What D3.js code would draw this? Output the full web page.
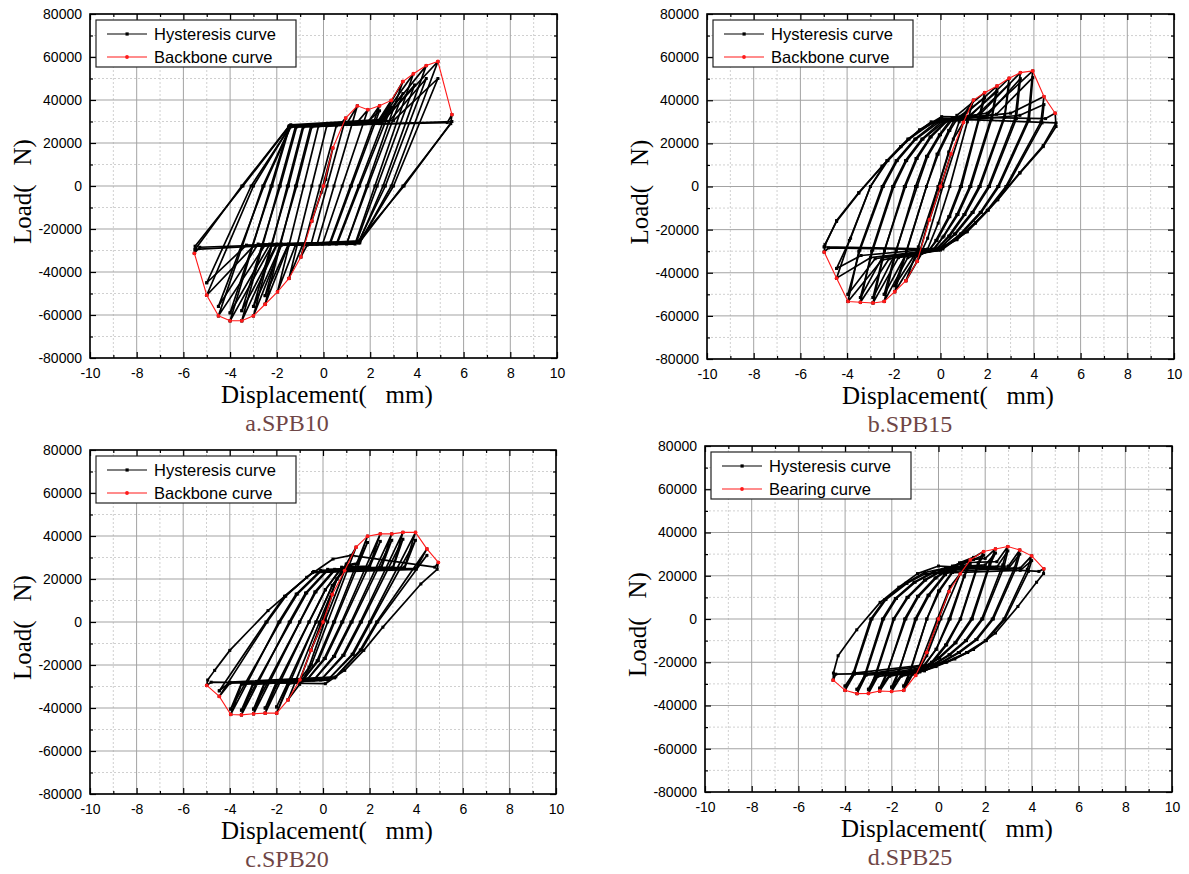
<!DOCTYPE html>
<html>
<head>
<meta charset="utf-8">
<script src="https://cdn.jsdelivr.net/npm/d3@7"></script>
<style>
  body { margin: 0; background: #fff; }
  svg { display: block; }
</style>
</head>
<body>
<svg id="chart" width="1189" height="874"></svg>
<script>
// Axis ticks shared by all four panels
const xMajorTicks = [-10, -8, -6, -4, -2, 0, 2, 4, 6, 8, 10];
const xMinorTicks = [-9, -7, -5, -3, -1, 1, 3, 5, 7, 9];
const yMajorTicks = [-80000, -60000, -40000, -20000, 0, 20000, 40000, 60000, 80000];
const yMinorTicks = [-70000, -50000, -30000, -10000, 10000, 30000, 50000, 70000];

const panelLabels = ["a.SPB10", "b.SPB15", "c.SPB20", "d.SPB25"];
const legendA = ["Hysteresis curve", "Backbone curve"];
const legendD = ["Hysteresis curve", "Bearing curve"];
const xTitle = "Displacement(\u00a0\u00a0\u00a0mm)";
const yTitle = "Load(\u00a0\u00a0\u00a0N)";

// Hysteresis loops: [displacement mm, load N]
// first cycle at each amplitude
const loopsA = [
  [[-0.5,-16300],[0.1,3000],[0.4,17700],[-0.1,-3000],[-0.5,-16300]],
  [[-0.97,-33000],[-0.15,0],[0.55,28000],[0.7,28500],[0.95,31600],[0.15,0],[-0.53,-27000],[-0.7,-27500],[-0.97,-33000]],
  [[-1.48,-43000],[-0.5,0],[0.14,28000],[1.0,29000],[1.45,37300],[0.45,0],[-0.27,-27000],[-0.9,-27500],[-1.48,-43000]],
  [[-1.97,-49200],[-0.85,0],[-0.21,28000],[1.4,29000],[1.9,35500],[0.8,0],[-0.04,-27000],[-1.2,-27500],[-1.97,-49200]],
  [[-2.5,-55000],[-1.2,0],[-0.54,28000],[1.9,29500],[2.4,37300],[1.15,0],[0.25,-27000],[-1.5,-27500],[-2.5,-55000]],
  [[-3.0,-60400],[-1.55,0],[-0.88,28000],[2.3,29500],[2.9,39800],[1.5,0],[0.55,-27000],[-1.8,-27500],[-3.0,-60400]],
  [[-3.5,-62700],[-1.9,0],[-1.19,28000],[2.4,30000],[3.4,48600],[1.85,0],[0.99,-27000],[-2.0,-27500],[-3.5,-62700]],
  [[-4.0,-62700],[-2.25,0],[-1.47,28000],[2.4,30000],[3.85,52200],[2.2,0],[1.35,-27000],[-2.2,-27500],[-4.0,-62700]],
  [[-4.5,-60400],[-2.6,0],[-1.4,28000],[2.5,30500],[4.4,56000],[2.55,0],[1.5,-26500],[-2.5,-27500],[-4.5,-60400]],
  [[-5.0,-50800],[-3.0,0],[-1.4,28500],[2.6,31000],[4.9,57900],[2.9,0],[1.55,-26500],[-3.0,-28000],[-5.0,-50800]],
  [[-5.53,-31300],[-5.5,-28000],[-3.45,0],[-1.45,28000],[5.3,29500],[5.5,33200],[5.45,29000],[3.4,0],[1.55,-26000],[-5.3,-28500],[-5.53,-31300]]
];
// repeated cycles (black peaks sitting under the backbone)
const repeatA = [
  [[-2.5,-51000],[-1.15,0],[-0.5,27500],[1.8,29000],[2.4,35000],[1.2,0],[0.3,-26500],[-1.5,-27000],[-2.5,-51000]],
  [[-3.0,-56000],[-1.5,0],[-0.85,27500],[2.2,29000],[2.9,36500],[1.55,0],[0.6,-26500],[-1.8,-27000],[-3.0,-56000]],
  [[-3.5,-58000],[-1.85,0],[-1.15,27500],[2.4,29000],[3.4,43000],[1.9,0],[1.0,-26500],[-2.0,-27000],[-3.5,-58000]],
  [[-4.0,-59000],[-2.2,0],[-1.45,27500],[2.5,29500],[3.9,47000],[2.3,0],[1.4,-26500],[-2.3,-27000],[-4.0,-59000]],
  [[-4.5,-56000],[-2.55,0],[-1.4,27500],[2.8,30000],[4.4,50000],[2.65,0],[1.5,-26000],[-2.8,-27000],[-4.5,-56000]],
  [[-5.0,-45000],[-3.1,0],[-1.4,28000],[3.0,30500],[4.9,50000],[3.0,0],[1.55,-26000],[-3.3,-27500],[-5.0,-45000]],
  [[-5.5,-29500],[-3.5,0],[-1.5,27500],[5.5,30000],[3.45,0],[1.5,-25500],[-5.5,-29500]]
];
const backboneA = [[-5.53,-31300],[-5.0,-50800],[-4.5,-60400],[-4.0,-62700],[-3.5,-62700],[-3.0,-60400],[-2.5,-55000],[-1.97,-49200],[-1.48,-43000],[-0.97,-33000],[-0.5,-16300],[0,0],[0.4,17700],[0.95,31600],[1.45,37300],[1.9,35500],[2.4,37300],[2.9,39800],[3.4,48600],[3.85,52200],[4.4,56000],[4.9,57900],[5.5,33200]];

const loopsB = [
  [[-0.47,-15400],[0.05,1500],[0.45,15100],[-0.05,-1500],[-0.47,-15400]],
  [[-1.0,-34700],[-0.1,0],[0.55,22000],[0.98,29700],[0.1,0],[-0.55,-24000],[-1.0,-34700]],
  [[-1.48,-43700],[-0.95,-28000],[-0.1,0],[0.35,16000],[0.8,30000],[1.41,40100],[1.15,30000],[0.4,0],[-0.1,-17000],[-0.55,-29000],[-0.8,-31000],[-1.48,-43700]],
  [[-1.96,-48800],[-1.45,-30000],[-0.6,0],[-0.15,15000],[0.35,26000],[0.7,33000],[1.89,43500],[1.65,32000],[0.85,0],[0.35,-14000],[-0.2,-25000],[-0.5,-30000],[-1.0,-32000],[-1.96,-48800]],
  [[-2.41,-53300],[-1.9,-30000],[-1.07,0],[-0.6,14000],[-0.05,24000],[0.5,32000],[1.0,33000],[2.42,46600],[2.2,33000],[1.25,0],[0.7,-13000],[0.1,-23500],[-0.3,-29500],[-1.4,-33000],[-2.41,-53300]],
  [[-2.89,-54000],[-2.4,-30000],[-1.55,0],[-1.05,13000],[-0.45,23000],[0.3,31000],[1.3,33000],[2.94,50200],[2.75,33000],[1.65,0],[1.0,-13000],[0.35,-23000],[-0.2,-29500],[-1.8,-33000],[-2.89,-54000]],
  [[-3.43,-53700],[-2.95,-30000],[-2.05,0],[-1.5,12000],[-0.8,22000],[0.1,30500],[1.7,33500],[3.42,52800],[3.2,32000],[2.05,0],[1.35,-12000],[0.6,-22000],[-0.1,-29500],[-2.2,-33500],[-3.43,-53700]],
  [[-3.96,-53300],[-3.5,-30000],[-2.5,0],[-1.9,12000],[-1.1,22000],[-0.1,30500],[2.0,34000],[3.95,53600],[3.75,31000],[2.45,0],[1.7,-12000],[0.85,-22000],[0.0,-29500],[-2.5,-34000],[-3.96,-53300]],
  [[-4.45,-42500],[-3.9,-25000],[-3.0,0],[-2.3,12000],[-1.4,22000],[-0.4,30000],[3.0,34000],[4.43,41700],[4.3,30000],[2.8,0],[2.0,-11000],[1.1,-21000],[0.1,-29000],[-3.0,-33000],[-4.45,-42500]],
  [[-4.98,-30400],[-4.95,-27000],[-4.45,-16200],[-3.5,-3100],[-2.5,9300],[-1.7,18500],[-0.9,26300],[0.05,32400],[4.5,31500],[4.91,34000],[4.95,27800],[4.4,18500],[3.4,6200],[2.45,-6200],[1.5,-17000],[0.7,-24700],[-0.1,-29300],[-4.8,-28500],[-4.98,-30400]]
];
const repeatB = [
  [[-1.96,-46000],[-1.45,-29500],[-0.6,0],[-0.1,15000],[0.4,26000],[0.75,32000],[1.89,41000],[1.65,31000],[0.9,0],[0.4,-14000],[-0.15,-25000],[-0.5,-29500],[-1.1,-31500],[-1.96,-46000]],
  [[-2.41,-50000],[-1.9,-29500],[-1.0,0],[-0.55,14000],[0.0,24000],[0.5,31000],[1.2,32500],[2.42,44000],[2.2,31500],[1.3,0],[0.75,-13000],[0.15,-23000],[-0.3,-29000],[-1.5,-32000],[-2.41,-50000]],
  [[-2.89,-51500],[-2.4,-29500],[-1.5,0],[-1.0,13000],[-0.4,23000],[0.3,30500],[1.5,32500],[2.94,47500],[2.75,32000],[1.7,0],[1.05,-13000],[0.4,-23000],[-0.2,-29000],[-2.0,-32500],[-2.89,-51500]],
  [[-3.43,-51500],[-2.9,-29500],[-2.0,0],[-1.45,12000],[-0.75,22000],[0.15,30000],[2.0,33000],[3.42,50000],[3.25,31500],[2.1,0],[1.4,-12000],[0.65,-22000],[-0.1,-29000],[-2.5,-33000],[-3.43,-51500]],
  [[-3.96,-50000],[-3.45,-29500],[-2.45,0],[-1.85,12000],[-1.05,22000],[-0.05,30000],[2.4,33500],[3.95,50500],[3.8,31000],[2.5,0],[1.75,-12000],[0.9,-22000],[0.0,-29000],[-2.8,-33500],[-3.96,-50000]],
  [[-4.45,-38000],[-3.85,-24000],[-3.0,0],[-2.25,12000],[-1.35,22000],[-0.35,29500],[3.4,33000],[4.43,38000],[4.35,29500],[2.85,0],[2.05,-11000],[1.15,-21000],[0.1,-28500],[-3.4,-32000],[-4.45,-38000]],
  [[-4.98,-28000],[-4.45,-15800],[-3.5,-2800],[-2.5,9500],[-1.7,18500],[-0.9,26000],[0.0,31500],[4.95,29500],[4.4,19000],[3.4,6500],[2.45,-6000],[1.5,-16800],[0.7,-24500],[-0.1,-29000],[-4.98,-28000]]
];
const backboneB = [[-4.98,-30400],[-4.45,-42500],[-3.96,-53300],[-3.43,-53700],[-2.89,-54000],[-2.41,-53300],[-1.96,-48800],[-1.48,-43700],[-1.0,-34700],[-0.47,-15400],[0,0],[0.45,15100],[0.98,29700],[1.41,40100],[1.89,43500],[2.42,46600],[2.94,50200],[3.42,52800],[3.95,53600],[4.43,41700],[4.91,34000]];

const loopsC = [
  [[-0.52,-13200],[0.05,1500],[0.4,12800],[-0.05,-1500],[-0.52,-13200]],
  [[-0.99,-26900],[-0.1,-1000],[0.6,20000],[0.93,23900],[0.1,1000],[-0.6,-21000],[-0.99,-26900]],
  [[-1.5,-36200],[-0.15,0],[0.6,20000],[1.0,27000],[1.42,34800],[0.2,0],[-0.5,-20000],[-1.0,-29000],[-1.5,-36200]],
  [[-1.99,-42400],[-0.3,0],[0.4,17000],[1.0,26500],[1.5,27500],[1.91,39900],[0.45,0],[-0.25,-18000],[-0.9,-27500],[-1.5,-29000],[-1.99,-42400]],
  [[-2.48,-42400],[-0.6,0],[0.1,15000],[0.8,25500],[2.0,26000],[2.46,41000],[0.8,0],[0.05,-17000],[-0.7,-27000],[-2.0,-28500],[-2.48,-42400]],
  [[-2.98,-42700],[-1.0,0],[-0.35,14000],[0.5,24500],[2.5,25500],[2.95,41000],[1.2,0],[0.45,-16000],[-0.4,-27000],[-2.5,-28500],[-2.98,-42700]],
  [[-3.5,-43200],[-1.45,0],[-0.75,13500],[0.2,24500],[3.0,25500],[3.43,41700],[1.6,0],[0.85,-15500],[-0.1,-27000],[-3.0,-29000],[-3.5,-43200]],
  [[-3.96,-43000],[-1.9,0],[-1.15,13000],[-0.1,24000],[3.5,25500],[3.97,41700],[2.0,0],[1.25,-15000],[0.2,-27000],[-3.5,-29000],[-3.96,-43000]],
  [[-4.45,-34600],[-2.4,0],[-1.6,12000],[-0.4,23500],[4.0,25000],[4.46,34000],[2.3,0],[1.6,-13000],[0.5,-26000],[-4.0,-28500],[-4.45,-34600]],
  [[-4.99,-29500],[-4.95,-27000],[-4.65,-22500],[-4.0,-13200],[-2.36,5300],[-0.7,20800],[0.43,29300],[1.2,31000],[4.8,25500],[4.95,27700],[4.9,24500],[4.2,17700],[2.57,-2400],[1.75,-13200],[0.93,-22500],[0.1,-28700],[-4.8,-28000],[-4.99,-29500]]
];
const repeatC = [
  [[-1.99,-39500],[-0.3,0],[0.4,17000],[1.0,26000],[1.5,27000],[1.91,37000],[0.5,0],[-0.2,-18000],[-0.85,-27000],[-1.5,-28500],[-1.99,-39500]],
  [[-2.48,-40000],[-0.6,0],[0.1,15000],[0.8,25000],[2.0,25500],[2.46,37500],[0.85,0],[0.1,-17000],[-0.65,-26500],[-2.0,-28000],[-2.48,-40000]],
  [[-2.98,-40500],[-1.0,0],[-0.3,14000],[0.5,24000],[2.5,25000],[2.95,38000],[1.25,0],[0.5,-16000],[-0.35,-26500],[-2.5,-28000],[-2.98,-40500]],
  [[-3.5,-41000],[-1.4,0],[-0.7,13500],[0.2,24000],[3.0,25000],[3.43,38500],[1.65,0],[0.9,-15500],[-0.05,-26500],[-3.0,-28500],[-3.5,-41000]],
  [[-3.96,-40500],[-1.85,0],[-1.1,13000],[-0.1,23500],[3.5,25000],[3.97,38000],[2.05,0],[1.3,-15000],[0.25,-26500],[-3.5,-28500],[-3.96,-40500]],
  [[-4.45,-32000],[-2.45,0],[-1.65,12000],[-0.45,23000],[4.0,24500],[4.46,31000],[2.35,0],[1.65,-13000],[0.55,-25500],[-4.0,-28000],[-4.45,-32000]]
];
const backboneC = [[-4.99,-29500],[-4.45,-34600],[-3.96,-43000],[-3.5,-43200],[-2.98,-42700],[-2.48,-42400],[-1.99,-42400],[-1.5,-36200],[-0.99,-26900],[-0.52,-13200],[0,0],[0.4,12800],[0.93,23900],[1.42,34800],[1.91,39900],[2.46,41000],[2.95,41000],[3.43,41700],[3.97,41700],[4.46,34000],[4.95,27700]];

const loopsD = [
  [[-0.5,-15400],[0.05,1500],[0.45,12700],[-0.05,-1500],[-0.5,-15400]],
  [[-0.98,-26100],[-0.05,0],[0.5,15000],[0.93,20900],[0.1,0],[-0.5,-17000],[-0.98,-26100]],
  [[-1.49,-33000],[-1.2,-24000],[-0.5,0],[0.0,13000],[0.6,22000],[1.0,25000],[1.36,27300],[1.1,20000],[0.45,0],[-0.1,-14000],[-0.7,-23000],[-1.1,-25500],[-1.49,-33000]],
  [[-2.01,-33500],[-1.7,-24500],[-1.0,0],[-0.45,11000],[0.25,20500],[0.9,26000],[1.5,28500],[1.93,31200],[1.7,26000],[0.93,0],[0.3,-12000],[-0.3,-20000],[-1.0,-25000],[-1.6,-26500],[-2.01,-33500]],
  [[-2.52,-33300],[-2.2,-25000],[-1.45,0],[-0.9,10500],[-0.15,19000],[0.6,24500],[1.4,27500],[2.0,28000],[2.44,32400],[2.2,26000],[1.4,0],[0.7,-11000],[0.0,-18000],[-0.6,-23000],[-2.1,-26500],[-2.52,-33300]],
  [[-3.0,-34400],[-2.7,-25500],[-1.93,0],[-1.35,10000],[-0.6,18000],[0.2,23000],[1.0,26000],[2.5,26500],[2.97,33500],[2.75,25000],[1.85,0],[1.15,-10000],[0.45,-16500],[-0.3,-21500],[-0.8,-24500],[-2.6,-26500],[-3.0,-34400]],
  [[-3.49,-34500],[-3.15,-25500],[-2.4,0],[-1.85,9500],[-1.05,17000],[-0.2,22000],[0.6,24000],[3.0,24500],[3.48,31900],[3.25,23500],[2.3,0],[1.6,-9500],[0.85,-15500],[0.05,-20500],[-0.6,-24000],[-3.1,-26000],[-3.49,-34500]],
  [[-4.0,-33000],[-3.65,-25000],[-2.9,0],[-2.3,9000],[-1.4,16500],[-0.6,21500],[0.3,23500],[3.5,23500],[3.99,29200],[3.8,23000],[2.8,0],[2.0,-10000],[1.2,-15500],[0.3,-20000],[-0.6,-23800],[-3.6,-25500],[-4.0,-33000]],
  [[-4.51,-28300],[-4.5,-25000],[-4.3,-17000],[-3.5,-5000],[-2.5,7700],[-1.7,14700],[-0.9,21000],[0.0,24500],[4.3,22000],[4.51,23200],[4.5,21000],[4.2,17000],[3.4,5800],[2.44,-6500],[1.5,-14100],[0.7,-18500],[-0.1,-22000],[-0.9,-24900],[-4.4,-25500],[-4.51,-28300]]
];
const repeatD = [
  [[-1.49,-31000],[-1.2,-23500],[-0.5,0],[0.05,13000],[0.6,21500],[1.0,24500],[1.36,25500],[1.1,19500],[0.5,0],[-0.1,-14000],[-0.7,-22500],[-1.1,-25000],[-1.49,-31000]],
  [[-2.01,-31500],[-1.7,-24000],[-0.95,0],[-0.4,11000],[0.3,20500],[0.9,25500],[1.5,27500],[1.93,29500],[1.7,25000],[0.95,0],[0.35,-12000],[-0.25,-20000],[-1.0,-24500],[-1.6,-26000],[-2.01,-31500]],
  [[-2.52,-32000],[-2.2,-24500],[-1.4,0],[-0.85,10500],[-0.1,19000],[0.6,24000],[2.0,25000],[2.44,30500],[2.2,25000],[1.45,0],[0.75,-11000],[0.05,-18000],[-0.6,-22500],[-2.1,-26000],[-2.52,-32000]],
  [[-3.0,-32500],[-2.65,-25000],[-1.9,0],[-1.3,10000],[-0.55,18000],[0.2,22500],[2.5,24000],[2.97,31500],[2.8,24000],[1.9,0],[1.2,-10000],[0.5,-16500],[-0.25,-21500],[-2.6,-26000],[-3.0,-32500]],
  [[-3.49,-32500],[-3.1,-25000],[-2.35,0],[-1.8,9500],[-1.0,17000],[-0.2,21500],[3.0,23500],[3.48,30000],[3.3,23000],[2.35,0],[1.65,-9500],[0.9,-15500],[0.1,-20500],[-3.1,-25500],[-3.49,-32500]],
  [[-4.0,-31000],[-3.6,-24500],[-2.85,0],[-2.25,9000],[-1.35,16500],[-0.55,21000],[3.5,22500],[3.99,27000],[3.85,22000],[2.85,0],[2.05,-10000],[1.25,-15500],[0.35,-20000],[-3.6,-25000],[-4.0,-31000]]
];
const backboneD = [[-4.51,-28300],[-4.0,-33000],[-3.49,-34500],[-3.0,-34400],[-2.52,-33300],[-2.01,-33500],[-1.49,-33000],[-0.98,-26100],[-0.5,-15400],[0,0],[0.45,12700],[0.93,20900],[1.36,27300],[1.93,31200],[2.44,32400],[2.97,33500],[3.48,31900],[3.99,29200],[4.51,23200]];

const panels = [
  { loops: loopsA.concat(repeatA), backbone: backboneA, legend: legendA, label: panelLabels[0], left: 90, right: 557, top: 14, bottom: 358, labelX: 287, titleDx: 131 },
  { loops: loopsB.concat(repeatB), backbone: backboneB, legend: legendA, label: panelLabels[1], left: 707, right: 1174, top: 14, bottom: 359, labelX: 910, titleDx: 135 },
  { loops: loopsC.concat(repeatC), backbone: backboneC, legend: legendA, label: panelLabels[2], left: 90, right: 556, top: 450, bottom: 794, labelX: 287, titleDx: 131 },
  { loops: loopsD.concat(repeatD), backbone: backboneD, legend: legendD, label: panelLabels[3], left: 705, right: 1172, top: 446, bottom: 792, labelX: 910, titleDx: 136 }
];

const svg = d3.select("#chart");
const sansFont = "'Liberation Sans', Arial, sans-serif";
const serifFont = "'Liberation Serif', 'Times New Roman', serif";

function drawPanel(p) {
  const x = d3.scaleLinear().domain([-10, 10]).range([p.left, p.right]);
  const y = d3.scaleLinear().domain([-80000, 80000]).range([p.bottom, p.top]);
  const g = svg.append("g");

  // minor grid (dotted) then major grid
  const grid = g.append("g");
  grid.selectAll(".vminor").data(xMinorTicks).join("line")
    .attr("x1", d => x(d)).attr("x2", d => x(d)).attr("y1", p.top).attr("y2", p.bottom)
    .attr("stroke", "#c4c4c4").attr("stroke-width", 0.8).attr("stroke-dasharray", "2,2");
  grid.selectAll(".hminor").data(yMinorTicks).join("line")
    .attr("x1", p.left).attr("x2", p.right).attr("y1", d => y(d)).attr("y2", d => y(d))
    .attr("stroke", "#c4c4c4").attr("stroke-width", 0.8).attr("stroke-dasharray", "2,2");
  grid.selectAll(".vmajor").data(xMajorTicks).join("line")
    .attr("x1", d => x(d)).attr("x2", d => x(d)).attr("y1", p.top).attr("y2", p.bottom)
    .attr("stroke", "#a3a3a3").attr("stroke-width", 1);
  grid.selectAll(".hmajor").data(yMajorTicks).join("line")
    .attr("x1", p.left).attr("x2", p.right).attr("y1", d => y(d)).attr("y2", d => y(d))
    .attr("stroke", "#a3a3a3").attr("stroke-width", 1);

  const line = d3.line().x(d => x(d[0])).y(d => y(d[1]));

  // hysteresis loops
  g.append("g").selectAll("path").data(p.loops).join("path")
    .attr("d", line).attr("fill", "none").attr("stroke", "#000").attr("stroke-width", 1.7)
    .attr("stroke-linejoin", "round");
  g.append("g").selectAll("rect").data(p.loops.flat()).join("rect")
    .attr("x", d => x(d[0]) - 1.5).attr("y", d => y(d[1]) - 1.5)
    .attr("width", 3).attr("height", 3).attr("fill", "#000");

  // backbone
  g.append("path").datum(p.backbone).attr("d", line)
    .attr("fill", "none").attr("stroke", "#ff1a1a").attr("stroke-width", 1.1);
  g.append("g").selectAll("circle").data(p.backbone).join("circle")
    .attr("cx", d => x(d[0])).attr("cy", d => y(d[1])).attr("r", 1.9).attr("fill", "#ff1a1a");

  // axes: ticks inward on all four sides
  const fmt = d => String(d);
  const bottomAx = g.append("g").attr("transform", `translate(0,${p.bottom})`)
    .call(d3.axisBottom(x).tickValues(xMajorTicks).tickSize(-6).tickPadding(10).tickFormat(fmt));
  g.append("g").attr("transform", `translate(0,${p.bottom})`)
    .call(d3.axisBottom(x).tickValues(xMinorTicks).tickSize(-3).tickFormat(""));
  const leftAx = g.append("g").attr("transform", `translate(${p.left},0)`)
    .call(d3.axisLeft(y).tickValues(yMajorTicks).tickSize(-6).tickPadding(8).tickFormat(fmt));
  g.append("g").attr("transform", `translate(${p.left},0)`)
    .call(d3.axisLeft(y).tickValues(yMinorTicks).tickSize(-3).tickFormat(""));
  g.append("g").attr("transform", `translate(0,${p.top})`)
    .call(d3.axisTop(x).tickValues(xMajorTicks).tickSize(-6).tickFormat(""));
  g.append("g").attr("transform", `translate(0,${p.top})`)
    .call(d3.axisTop(x).tickValues(xMinorTicks).tickSize(-3).tickFormat(""));
  g.append("g").attr("transform", `translate(${p.right},0)`)
    .call(d3.axisRight(y).tickValues(yMajorTicks).tickSize(-6).tickFormat(""));
  g.append("g").attr("transform", `translate(${p.right},0)`)
    .call(d3.axisRight(y).tickValues(yMinorTicks).tickSize(-3).tickFormat(""));
  g.selectAll(".domain").remove();
  g.selectAll(".tick line").attr("stroke", "#000").attr("stroke-width", 1.2);
  [bottomAx, leftAx].forEach(ax => ax.selectAll("text")
    .attr("font-family", sansFont).attr("font-size", 14).attr("fill", "#000"));

  g.append("rect").attr("x", p.left).attr("y", p.top)
    .attr("width", p.right - p.left).attr("height", p.bottom - p.top)
    .attr("fill", "none").attr("stroke", "#000").attr("stroke-width", 1.6);

  // axis titles and panel caption
  g.append("text").attr("x", p.left + p.titleDx).attr("y", p.bottom + 45)
    .attr("font-family", serifFont).attr("font-size", 25).text(xTitle);
  g.append("text")
    .attr("transform", `translate(${p.left - 59},${(p.top + p.bottom) / 2 + 58}) rotate(-90)`)
    .attr("font-family", serifFont).attr("font-size", 25).text(yTitle);

  g.append("text").attr("x", p.labelX).attr("y", p.bottom + 73)
    .attr("text-anchor", "middle").attr("font-family", serifFont).attr("font-size", 24)
    .attr("fill", "#6f4646").text(p.label);

  // legend
  const lx = p.left + 6, ly = p.top + 6;
  const leg = g.append("g");
  leg.append("rect").attr("x", lx).attr("y", ly).attr("width", 200).attr("height", 47)
    .attr("fill", "#fff").attr("stroke", "#222").attr("stroke-width", 1.2);
  const colors = ["#000", "#ff1a1a"];
  p.legend.forEach((name, i) => {
    const yy = ly + 14 + i * 23;
    leg.append("line").attr("x1", lx + 11).attr("x2", lx + 51).attr("y1", yy).attr("y2", yy)
      .attr("stroke", colors[i]).attr("stroke-width", 1.2);
    if (i === 0) {
      leg.append("rect").attr("x", lx + 29.5).attr("y", yy - 1.6).attr("width", 3.2).attr("height", 3.2).attr("fill", "#000");
    } else {
      leg.append("circle").attr("cx", lx + 31).attr("cy", yy).attr("r", 1.9).attr("fill", colors[i]);
    }
    leg.append("text").attr("x", lx + 58).attr("y", yy + 6)
      .attr("font-family", sansFont).attr("font-size", 16.5).attr("fill", "#000").text(name);
  });
}

panels.forEach(drawPanel);
</script>
</body>
</html>
